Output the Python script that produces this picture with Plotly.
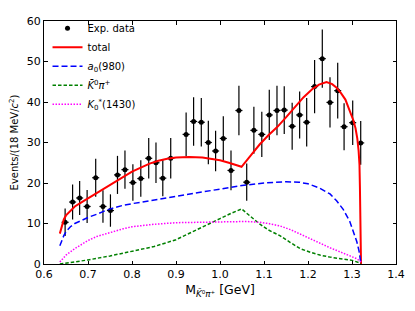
import plotly.graph_objects as go

# ---- data ----
data_x = [0.648, 0.665, 0.681, 0.698, 0.7175, 0.734, 0.751, 0.767, 0.784, 0.802,
          0.820, 0.838, 0.8545, 0.870, 0.888, 0.923, 0.940, 0.9575, 0.9735, 0.990,
          1.0075, 1.025, 1.043, 1.0607, 1.077, 1.095, 1.112, 1.1295, 1.146, 1.164,
          1.181, 1.197, 1.215, 1.2325, 1.250, 1.2675, 1.282, 1.3016, 1.3198]
data_y = [10.3, 15.3, 16.3, 14.2, 21.3, 14.2, 13.2, 22.0, 23.3, 20.1,
          21.1, 26.1, 25.0, 21.2, 26.1, 32.0, 35.2, 35.0, 30.0, 27.9,
          31.0, 23.1, 37.9, 20.2, 33.0, 32.0, 36.8, 37.9, 38.0, 34.0,
          36.8, 35.0, 43.8, 50.7, 39.9, 42.8, 33.9, 34.9, 29.9]
data_err = [3.4, 4.3, 4.2, 4.1, 4.7, 4.0, 4.0, 4.7, 4.7, 4.5,
            4.5, 5.0, 5.0, 4.5, 5.0, 5.4, 6.0, 6.0, 5.4, 5.0,
            5.5, 4.9, 6.1, 4.6, 5.8, 5.6, 6.2, 6.1, 5.9, 5.8,
            5.8, 6.0, 6.6, 7.2, 6.2, 6.9, 5.8, 5.5, 5.4]
data_xerr = 0.008

total_x = [0.636, 0.640, 0.645, 0.650, 0.660, 0.670, 0.685, 0.700, 0.720, 0.740,
           0.760, 0.780, 0.800, 0.820, 0.840, 0.860, 0.880, 0.900, 0.930, 0.960,
           0.980, 1.000, 1.020, 1.035, 1.049, 1.070, 1.090, 1.110, 1.130, 1.150,
           1.170, 1.190, 1.210, 1.225, 1.242, 1.255, 1.265, 1.275, 1.285, 1.295,
           1.303, 1.308, 1.312, 1.315, 1.317, 1.318, 1.319, 1.3198, 1.3205]
total_y = [7.5, 9.3, 11.0, 12.0, 13.2, 14.2, 15.2, 16.2, 17.5, 18.8,
           20.2, 21.5, 22.8, 23.8, 24.8, 25.5, 26.0, 26.3, 26.4, 26.3,
           26.0, 25.6, 25.0, 24.5, 24.0, 26.8, 29.5, 31.8, 33.8, 36.2,
           38.8, 41.2, 43.2, 44.3, 44.9, 44.4, 43.5, 42.2, 40.6, 38.0,
           35.5, 33.5, 31.0, 28.0, 24.5, 19.0, 12.0, 6.0, 0.0]

a0_x = [0.636, 0.640, 0.645, 0.650, 0.660, 0.670, 0.685, 0.700, 0.720, 0.740,
        0.760, 0.780, 0.800, 0.850, 0.900, 0.950, 1.000, 1.050, 1.100, 1.150,
        1.180, 1.200, 1.225, 1.250, 1.265, 1.280, 1.295, 1.305, 1.311, 1.316,
        1.319, 1.3205]
a0_y = [4.5, 5.8, 7.0, 8.0, 9.2, 10.0, 10.8, 11.5, 12.3, 13.2,
        13.9, 14.5, 14.9, 15.8, 16.6, 17.6, 18.5, 19.4, 20.0, 20.3,
        20.2, 19.8, 18.8, 17.3, 15.6, 13.5, 10.5, 7.5, 5.5, 3.2,
        1.2, 0.0]

kpi_x = [0.636, 0.650, 0.700, 0.750, 0.800, 0.850, 0.900, 0.950, 1.000, 1.025,
         1.049, 1.070, 1.090, 1.110, 1.136, 1.160, 1.182, 1.205, 1.227, 1.250,
         1.273, 1.300, 1.3205]
kpi_y = [0.0, 0.2, 1.0, 2.0, 3.1, 4.3, 6.0, 8.5, 11.2, 12.5,
         13.6, 11.7, 9.9, 8.4, 7.0, 5.3, 3.8, 2.9, 2.2, 1.7,
         1.3, 0.9, 0.2]

k1430_x = [0.636, 0.650, 0.670, 0.700, 0.720, 0.750, 0.780, 0.800, 0.850, 0.900,
           0.950, 1.000, 1.030, 1.060, 1.090, 1.110, 1.136, 1.160, 1.182, 1.205,
           1.227, 1.250, 1.273, 1.295, 1.311, 1.3205]
k1430_y = [0.5, 2.2, 3.8, 5.8, 6.8, 7.8, 8.7, 9.2, 9.8, 10.2,
           10.3, 10.5, 10.6, 10.5, 10.3, 10.0, 9.4, 8.5, 7.4, 6.2,
           5.0, 4.0, 3.0, 2.0, 1.3, 0.5]

x_ticks = [0.6, 0.7, 0.8, 0.9, 1.0, 1.1, 1.2, 1.3, 1.4]
y_ticks = [0, 10, 20, 30, 40, 50, 60]

FONT = "DejaVu Sans"

fig = go.Figure()
fig.add_trace(go.Scatter(
    x=data_x, y=data_y, mode="markers", name="Exp. data",
    marker=dict(color="black", size=5),
    error_y=dict(type="data", array=data_err, color="black", thickness=1.2, width=0),
    error_x=dict(type="constant", value=data_xerr, color="black", thickness=1.2, width=0),
))
fig.add_trace(go.Scatter(x=total_x, y=total_y, mode="lines", name="total",
                         line=dict(color="red", width=2)))
fig.add_trace(go.Scatter(x=a0_x, y=a0_y, mode="lines", name="<i>a</i><sub>0</sub>(980)",
                         line=dict(color="blue", width=1.5, dash="6px,3px")))
fig.add_trace(go.Scatter(x=kpi_x, y=kpi_y, mode="lines",
                         name="<i>K\u0304</i><sup>0</sup><i>π</i><sup>+</sup>",
                         line=dict(color="green", width=1.5, dash="3.5px,2px")))
fig.add_trace(go.Scatter(x=k1430_x, y=k1430_y, mode="lines",
                         name="<i>K</i><sub>0</sub><sup>*</sup>(1430)",
                         line=dict(color="magenta", width=1.5, dash="1.5px,1.5px")))

axis_common = dict(showline=True, linecolor="black", linewidth=1, mirror="ticks",
                   ticks="inside", ticklen=3.5, tickwidth=1, tickcolor="black",
                   showgrid=False, zeroline=False,
                   tickfont=dict(family=FONT, size=11, color="black"))

# page body has an 8px default margin, so the figure is 8px smaller
fig.update_layout(
    width=407, height=303,
    margin=dict(l=36, r=19, t=6, b=47),
    paper_bgcolor="white", plot_bgcolor="white",
    font=dict(family=FONT, size=11, color="black"),
    showlegend=True,
    legend=dict(x=0.01, y=1.03, xanchor="left", yanchor="top",
                bgcolor="rgba(0,0,0,0)", borderwidth=0,
                font=dict(family=FONT, size=10), tracegroupgap=0),
    xaxis=dict(range=[0.6, 1.4], tickvals=x_ticks, tickformat=".1f",
               title=dict(text="M<sub><i>K\u0304</i>⁰<i>π</i>⁺</sub> [GeV]",
                          font=dict(family=FONT, size=12.5), standoff=5),
               **axis_common),
    yaxis=dict(range=[0, 60], tickvals=y_ticks,
               title=dict(text="Events/(18 MeV/<i>c</i><sup>2</sup>)",
                          font=dict(family=FONT, size=10), standoff=6),
               **axis_common),
)

fig.write_html("out.html")
